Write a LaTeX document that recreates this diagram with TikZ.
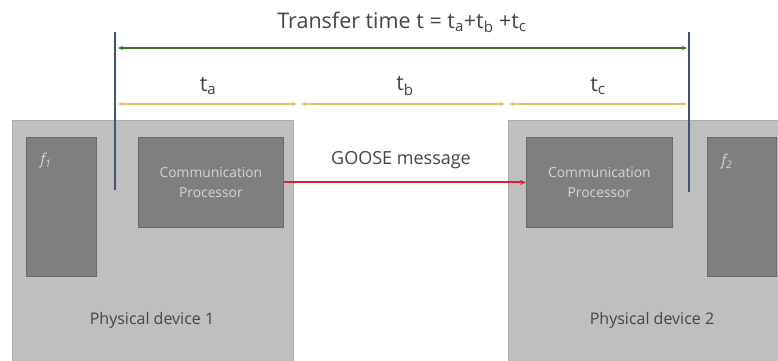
\documentclass[tikz,border=0pt]{standalone}
\usepackage{fontspec}
\setmainfont{Open Sans}
\usetikzlibrary{arrows.meta}
\definecolor{devfill}{HTML}{BFBFBF}
\definecolor{devline}{HTML}{ABABAB}
\definecolor{boxfill}{HTML}{7F7F7F}
\definecolor{boxline}{HTML}{6A6A6A}
\definecolor{boxtext}{HTML}{D4D4D4}
\definecolor{txt}{HTML}{454545}
\definecolor{vline}{HTML}{44546A}
\definecolor{grn}{HTML}{3A7328}
\definecolor{ylw}{HTML}{E8C26A}
\definecolor{rd}{HTML}{E02030}
\tikzset{
  device/.style={fill=devfill,draw=devline,line width=0.8pt,anchor=north west,inner sep=0pt},
  inbox/.style={fill=boxfill,draw=boxline,line width=0.8pt,anchor=north west,inner sep=0pt},
  boxlabel/.style={text=boxtext,font=\fontsize{13.8}{20}\selectfont,align=center},
  flabel/.style={text=boxtext,font=\itshape\fontsize{15}{17}\selectfont},
  lbl/.style={text=txt,font=\fontsize{16}{19}\selectfont},
  glbl/.style={text=txt,font=\fontsize{18}{21}\selectfont},
  tlbl/.style={text=txt,font=\fontsize{21.5}{25}\selectfont},
  marker/.style={draw=vline,line width=2pt},
  total/.style={draw=grn,line width=2.2pt,{Stealth[length=5pt,width=4pt]}-{Stealth[length=5pt,width=4pt]}},
  part/.style={draw=ylw,line width=2pt,{Stealth[length=5pt,width=4pt]}-{Stealth[length=5pt,width=4pt]}},
  msg/.style={draw=rd,line width=2pt,-{Stealth[length=6pt,width=5pt]}}
}
\begin{document}
\begin{tikzpicture}[x=1pt,y=-1pt]
\useasboundingbox[fill=white] (0,0) rectangle (778,360);
% devices
\node[device,minimum width=281pt,minimum height=245pt] (dev1) at (12,120) {};
\node[device,minimum width=280pt,minimum height=245pt] (dev2) at (508,120) {};
% inner boxes
\node[inbox,minimum width=70pt,minimum height=139pt] (f1) at (26,137) {};
\node[inbox,minimum width=145pt,minimum height=90pt] (cp1) at (138,137) {};
\node[inbox,minimum width=146pt,minimum height=90pt] (cp2) at (526,137) {};
\node[inbox,minimum width=69pt,minimum height=139pt] (f2) at (707,137) {};
% labels
\node[flabel] (f1t) at (46,161) {f\textsubscript{1}};
\node[flabel] (f2t) at (727,162) {f\textsubscript{2}};
\node[boxlabel] (cp1t) at (cp1.center) {Communication\\Processor};
\node[boxlabel] (cp2t) at (cp2.center) {Communication\\Processor};
\node[lbl] (d1t) at (152,320) {Physical device 1};
\node[lbl] (d2t) at (652,320) {Physical device 2};
\node[glbl] (goose) at (401,160) {GOOSE message};
% markers
\coordinate (m1a) at (115,32);
\coordinate (m1b) at (115,190);
\coordinate (m2a) at (689,32);
\coordinate (m2b) at (689,192);
\draw[marker] (m1a) -- (m1b);
\draw[marker] (m2a) -- (m2b);
% total arrow
\coordinate (g1) at (118,48);
\coordinate (g2) at (687,48);
\draw[total] (g1) -- (g2);
\node[tlbl] (title) at (402,22) {Transfer time t = t\textsubscript{a}+t\textsubscript{b} +t\textsubscript{c}};
% parts
\coordinate (a1) at (118,104); \coordinate (a2) at (297,104);
\coordinate (b1) at (301,104); \coordinate (b2) at (505,104);
\coordinate (c1) at (509,104); \coordinate (c2) at (687,104);
\draw[part] (a1) -- (a2);
\draw[part] (b1) -- (b2);
\draw[part] (c1) -- (c2);
\node[tlbl] (ta) at (208,86) {t\textsubscript{a}};
\node[tlbl] (tb) at (405,86) {t\textsubscript{b}};
\node[tlbl] (tc) at (598,86) {t\textsubscript{c}};
% message
\draw[msg] (cp1.east) -- (cp2.west);
\end{tikzpicture}
\end{document}
